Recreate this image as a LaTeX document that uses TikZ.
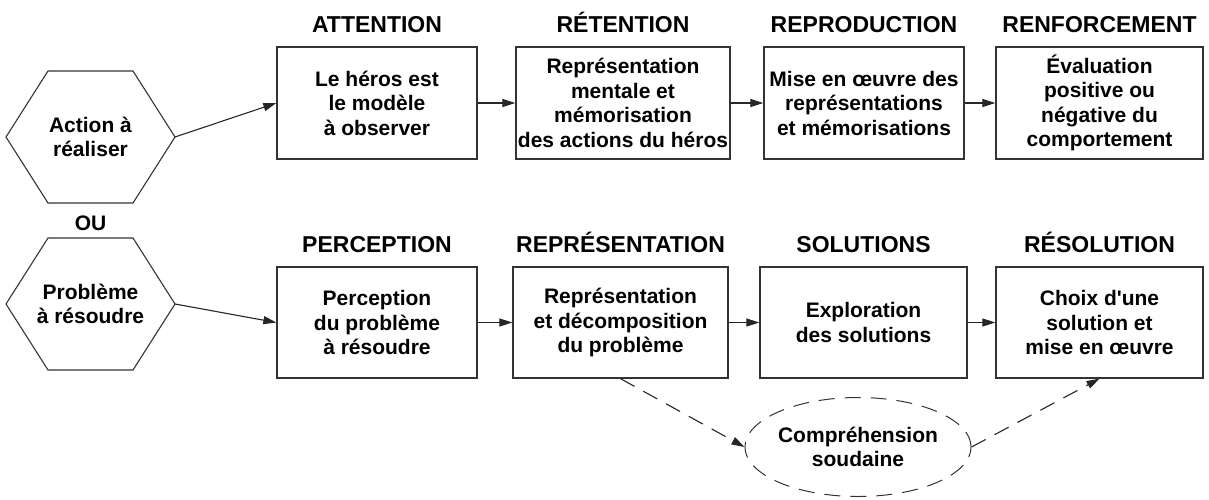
\documentclass[tikz,border=0pt]{standalone}
\usepackage{fontspec}
\setmainfont{Liberation Sans}[Ligatures=TeXOff]
\usetikzlibrary{arrows.meta,shapes.geometric}
\begin{document}
\begin{tikzpicture}[x=1pt,y=-1pt,
  txt/.style={font=\fontsize{21}{24.5}\selectfont\bfseries, align=center, text=black},
  stagebox/.style={txt, draw=black!80, line width=1.3pt, inner sep=0pt, minimum height=112pt},
  stagehead/.style={font=\fontsize{23}{27}\selectfont\bfseries, anchor=base, inner sep=0pt, text=black},
  hexline/.style={draw=black!80, line width=1.1pt, line join=miter},
  flow/.style={line width=1.1pt, draw=black!85, -{Triangle[length=13pt,width=8pt]}},
  insight/.style={flow, dash pattern=on 16pt off 10pt},
]
\useasboundingbox (0,0) rectangle (1209,499);

% starting points: two hexagons
\draw[hexline, shift={(90.5,137)}] (-84.5,0) -- (-42.5,-66) -- (42.5,-66) -- (84.5,0) -- (42.5,66) -- (-42.5,66) -- cycle;
\node[txt] (act) at (90.5,137) {Action à\\réaliser};
\coordinate (acte) at (175,137);

\node[txt, anchor=base] (ou) at (90.5,230) {OU};

\draw[hexline, shift={(90.5,304)}] (-84.5,0) -- (-42.5,-66) -- (42.5,-66) -- (84.5,0) -- (42.5,66) -- (-42.5,66) -- cycle;
\node[txt] (pb) at (90.5,304) {Problème\\à résoudre};
\coordinate (pbe) at (175,304);

% imitation chain
\node[stagebox, minimum width=200pt] (t1) at (377,103) {Le héros est\\le modèle\\à observer};
\node[stagebox, minimum width=214pt] (t2) at (623,103) {Représentation\\mentale et\\mémorisation\\des actions du héros};
\node[stagebox, minimum width=200pt] (t3) at (864,103) {Mise en œuvre des\\représentations\\et mémorisations};
\node[stagebox, minimum width=207pt] (t4) at (1099.5,103) {Évaluation\\positive ou\\négative du\\comportement};

\node[stagehead] (h1) at (377,32) {ATTENTION};
\node[stagehead] (h2) at (623,32) {RÉTENTION};
\node[stagehead] (h3) at (864,32) {REPRODUCTION};
\node[stagehead] (h4) at (1099.5,32) {RENFORCEMENT};

% problem-solving chain
\node[stagebox, minimum width=200pt, minimum height=111pt] (r1) at (377,322.5) {Perception\\du problème\\à résoudre};
\node[stagebox, minimum width=215pt, minimum height=111pt] (r2) at (620.5,322.5) {Représentation\\et décomposition\\du problème};
\node[stagebox, minimum width=207pt, minimum height=111pt] (r3) at (863.5,322.5) {Exploration\\des solutions};
\node[stagebox, minimum width=207pt, minimum height=111pt] (r4) at (1099.5,322.5) {Choix d'une\\solution et\\mise en œuvre};

\node[stagehead] (k1) at (377,252) {PERCEPTION};
\node[stagehead] (k2) at (620.5,252) {REPRÉSENTATION};
\node[stagehead] (k3) at (863.5,252) {SOLUTIONS};
\node[stagehead] (k4) at (1099.5,252) {RÉSOLUTION};

\node[txt, ellipse, draw=black!80, line width=1pt, dash pattern=on 16pt off 10pt,
      minimum width=205pt, minimum height=99pt, inner sep=0pt] (ins) at (858,447) {Compréhension\\soudaine};

% connectors
\draw[flow] (acte) -- (t1.west);
\draw[flow] (t1) -- (t2);
\draw[flow] (t2) -- (t3);
\draw[flow] (t3) -- (t4);

\draw[flow] (pbe) -- (r1.west);
\draw[flow] (r1) -- (r2);
\draw[flow] (r2) -- (r3);
\draw[flow] (r3) -- (r4);

\draw[insight] (r2.south) -- (ins.west);
\draw[insight] (ins.east) -- (r4.south);
\end{tikzpicture}
\end{document}
